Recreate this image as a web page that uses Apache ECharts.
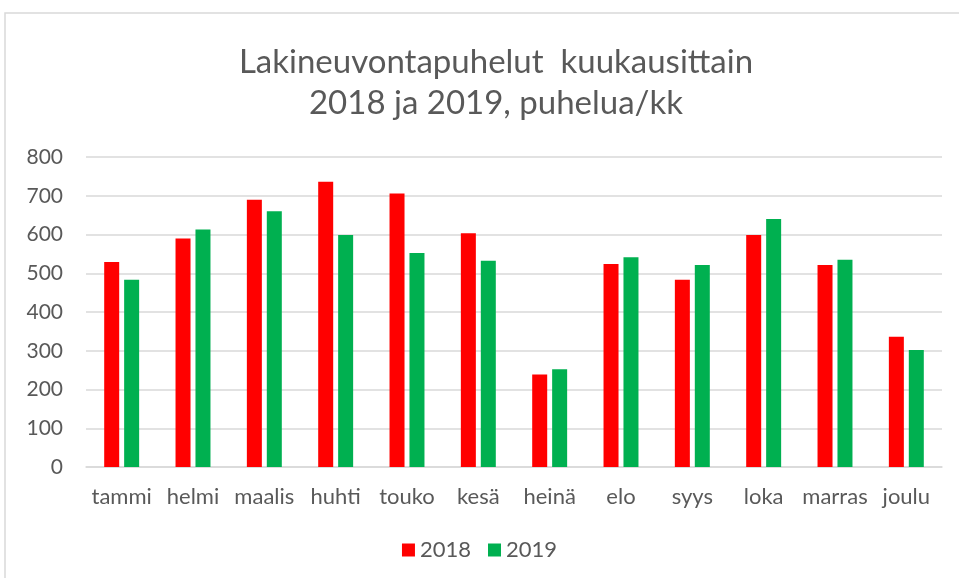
<!DOCTYPE html>
<html>
<head>
<meta charset="utf-8">
<script src="https://cdn.jsdelivr.net/npm/echarts@6/dist/echarts.min.js"></script>
<style>
  html, body { margin: 0; padding: 0; background: #fff; }
  #chart { width: 959px; height: 578px; }
</style>
</head>
<body>
<div id="chart"></div>
<script>
// kuukaudet
const months = ['tammi', 'helmi', 'maalis', 'huhti', 'touko', 'kesä', 'heinä', 'elo', 'syys', 'loka', 'marras', 'joulu'];

// puhelua/kk, luettu kuvasta
const calls2018 = [529, 590, 690, 736, 706, 603, 239, 524, 483, 599, 521, 336];
const calls2019 = [483, 613, 660, 599, 552, 532, 252, 541, 521, 640, 535, 302];

const textColor = '#595959';
const font = 'Lato, "Open Sans", sans-serif';

var myChart = echarts.init(document.getElementById('chart'));

const option = {
    animation: false,
    backgroundColor: '#fff',
    title: {
        text: 'Lakineuvontapuhelut  kuukausittain\n2018 ja 2019, puhelua/kk',
        left: 491,
        top: 37,
        textAlign: 'center',
        textStyle: {
            color: textColor,
            fontFamily: font,
            fontWeight: 'normal',
            fontSize: 33,
            lineHeight: 41
        }
    },
    graphic: [{
        type: 'rect',
        shape: { x: 5, y: 13, width: 1000, height: 620 },
        style: { fill: 'none', stroke: '#d9d9d9', lineWidth: 1.5 },
        silent: true
    }],
    legend: {
        bottom: 12,
        left: 'center',
        itemWidth: 13,
        itemHeight: 13,
        itemGap: 17,
        icon: 'rect',
        textStyle: { color: textColor, fontFamily: font, fontSize: 22 },
        data: ['2018', '2019']
    },
    grid: {
        left: 86,
        right: 17,
        top: 157,
        bottom: 111,
        containLabel: false
    },
    xAxis: {
        type: 'category',
        data: months,
        axisTick: { show: false },
        axisLine: { lineStyle: { color: '#d9d9d9', width: 1.5 } },
        axisLabel: {
            color: textColor,
            fontFamily: font,
            fontSize: 22,
            margin: 19,
            interval: 0
        }
    },
    yAxis: {
        type: 'value',
        min: 0,
        max: 800,
        interval: 100,
        axisLine: { show: false },
        axisTick: { show: false },
        splitLine: { lineStyle: { color: '#d9d9d9', width: 1.5 } },
        axisLabel: {
            color: textColor,
            fontFamily: font,
            fontSize: 21,
            margin: 23
        }
    },
    series: [{
        name: '2018',
        type: 'bar',
        data: calls2018,
        barWidth: 15,
        barGap: '33%',
        itemStyle: { color: '#ff0000' }
    }, {
        name: '2019',
        type: 'bar',
        data: calls2019,
        barWidth: 15,
        itemStyle: { color: '#00b050' }
    }]
};

myChart.setOption(option);

window.addEventListener('resize', function() {
    myChart.resize();
});
</script>
</body>
</html>
